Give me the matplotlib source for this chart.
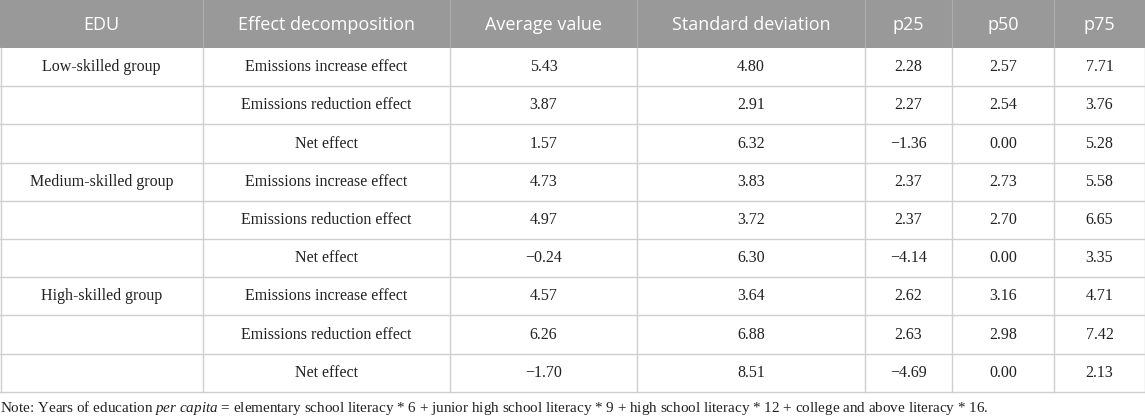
import matplotlib
matplotlib.use("Agg")
import matplotlib.pyplot as plt

# Table content
headers = ["EDU", "Effect decomposition", "Average value", "Standard deviation",
           "p25", "p50", "p75"]
groups = ["Low-skilled group", "Medium-skilled group", "High-skilled group"]
effects = ["Emissions increase effect", "Emissions reduction effect", "Net effect"]

avg_value = [5.43, 3.87, 1.57, 4.73, 4.97, -0.24, 4.57, 6.26, -1.70]
std_dev = [4.80, 2.91, 6.32, 3.83, 3.72, 6.30, 3.64, 6.88, 8.51]
p25 = [2.28, 2.27, -1.36, 2.37, 2.37, -4.14, 2.62, 2.63, -4.69]
p50 = [2.57, 2.54, 0.00, 2.73, 2.70, 0.00, 3.16, 2.98, 0.00]
p75 = [7.71, 3.76, 5.28, 5.58, 6.65, 3.35, 4.71, 7.42, 2.13]

note = (r"Note: Years of education $\it{per\ capita}$ = elementary school literacy * 6 + "
        r"junior high school literacy * 9 + high school literacy * 12 + "
        r"college and above literacy * 16.")


def fmt(v):
    s = f"{abs(v):.2f}"
    return "\u2212" + s if v < 0 else s


plt.rcParams["mathtext.fontset"] = "custom"
plt.rcParams["mathtext.rm"] = "Liberation Serif"
plt.rcParams["mathtext.it"] = "Liberation Serif:italic"

W, H = 1145, 419
fig = plt.figure(figsize=(W / 100, H / 100), dpi=100)
ax = fig.add_axes([0, 0, 1, 1])
ax.set_xlim(0, W)
ax.set_ylim(H, 0)
ax.axis("off")

# layout in pixels
col_edges = [0, 203, 450, 637, 865, 952, 1054, 1145]
header_h = 48
row_h = 38.2
line_col = "#cfcfcf"

# header band
ax.add_patch(plt.Rectangle((0, 0), W, header_h, color="#999999", lw=0))
for i, h in enumerate(headers):
    xc = (col_edges[i] + col_edges[i + 1]) / 2
    ax.text(xc, header_h / 2 + 1, h, ha="center", va="center", color="white",
            fontsize=13, family="Open Sans")
for x in col_edges[1:-1]:
    ax.plot([x, x], [0, header_h], color="#acacac", lw=0.8)

# body rows
rows = []
for g in range(len(groups)):
    for e in range(len(effects)):
        rows.append([groups[g] if e == 0 else "", effects[e]])
for r, vals in enumerate(zip(avg_value, std_dev, p25, p50, p75)):
    rows[r] += [fmt(v) for v in vals]

for r, row in enumerate(rows):
    yc = header_h + (r + 0.5) * row_h
    for c, txt in enumerate(row):
        xc = (col_edges[c] + col_edges[c + 1]) / 2
        ax.text(xc, yc, txt, ha="center", va="center", color="#222222",
                fontsize=11.5, family="Liberation Serif")

bottom = header_h + len(rows) * row_h
for r in range(1, len(rows) + 1):
    y = header_h + r * row_h
    ax.plot([0, W], [y, y], color=line_col, lw=1.0)
for x in col_edges:
    xx = min(max(x, 0.5), W - 0.5)
    ax.plot([xx, xx], [header_h, bottom], color=line_col, lw=1.0)

ax.text(0, bottom + 16, note, ha="left", va="center", color="#222222",
        fontsize=10.9, family="Liberation Serif")

fig.savefig("out.png", dpi=100)
